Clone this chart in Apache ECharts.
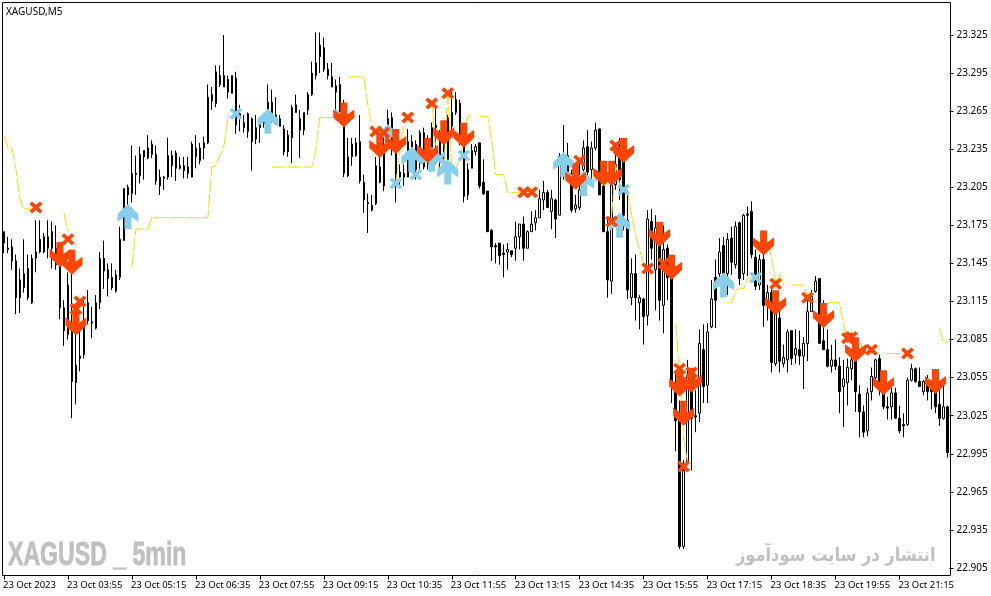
<!DOCTYPE html>
<html><head><meta charset="utf-8">
<style>html,body{margin:0;padding:0;background:#fff}#c{width:991px;height:596px}</style>
<script src="https://cdn.jsdelivr.net/npm/echarts@6/dist/echarts.min.js"></script>
</head><body><div id="c"></div>
<script>
const chartTitle = 'XAGUSD,M5';
const watermarkLeft = 'XAGUSD _ 5min';
const watermarkRight = 'انتشار در سایت سودآموز';
const tickEvery = 16;
const timeLabels = ['23 Oct 2023','23 Oct 03:55','23 Oct 05:15','23 Oct 06:35','23 Oct 07:55','23 Oct 09:15','23 Oct 10:35','23 Oct 11:55','23 Oct 13:15','23 Oct 14:35','23 Oct 15:55','23 Oct 17:15','23 Oct 18:35','23 Oct 19:55','23 Oct 21:15'];
const priceTicks = [22.905,22.935,22.965,22.995,23.025,23.055,23.085,23.115,23.145,23.175,23.205,23.235,23.265,23.295,23.325];

const opens = [23.170,23.157,23.158,23.147,23.118,23.126,23.141,23.114,23.149,23.154,
23.166,23.157,23.170,23.157,23.146,23.110,23.089,23.094,23.051,23.070,
23.073,23.114,23.099,23.094,23.114,23.149,23.140,23.134,23.123,23.134,
23.163,23.205,23.200,23.216,23.214,23.234,23.228,23.239,23.231,23.206,
23.212,23.213,23.222,23.232,23.222,23.222,23.221,23.213,23.236,23.226,
23.236,23.240,23.278,23.271,23.293,23.293,23.290,23.279,23.291,23.263,
23.256,23.249,23.259,23.243,23.252,23.255,23.266,23.272,23.258,23.259,
23.251,23.246,23.244,23.270,23.259,23.250,23.266,23.278,23.293,23.308,
23.315,23.298,23.292,23.280,23.286,23.266,23.214,23.229,23.240,23.241,
23.209,23.193,23.187,23.192,23.221,23.206,23.236,23.260,23.234,23.213,
23.216,23.213,23.230,23.239,23.224,23.248,23.242,23.233,23.252,23.248,
23.227,23.227,23.253,23.264,23.271,23.240,23.199,23.220,23.233,23.240,
23.209,23.202,23.171,23.159,23.161,23.153,23.154,23.155,23.157,23.166,
23.176,23.157,23.170,23.177,23.181,23.195,23.201,23.186,23.195,23.183,
23.215,23.230,23.216,23.188,23.189,23.219,23.237,23.219,23.236,23.251,
23.206,23.170,23.131,23.207,23.238,23.227,23.179,23.118,23.137,23.114,
23.117,23.104,23.178,23.140,23.164,23.112,23.157,23.134,23.051,23.022,
22.922,22.989,23.045,23.025,23.027,23.077,23.049,23.095,23.134,23.137,
23.159,23.137,23.165,23.144,23.177,23.137,23.184,23.186,23.150,23.128,
23.148,23.112,23.122,23.066,23.102,23.066,23.069,23.092,23.073,23.077,
23.072,23.082,23.107,23.123,23.133,23.084,23.077,23.064,23.069,23.064,
23.048,23.051,23.062,23.068,23.042,23.028,23.013,23.044,23.055,23.070,
23.043,23.032,23.032,23.043,23.023,23.018,23.018,23.053,23.062,23.052,
23.044,23.051,23.046,23.043,23.034,23.023,23.032];

const closes = [23.161,23.156,23.147,23.118,23.132,23.137,23.118,23.149,23.154,23.164,
23.154,23.166,23.157,23.144,23.110,23.092,23.128,23.052,23.065,23.072,
23.097,23.100,23.098,23.114,23.149,23.139,23.133,23.126,23.136,23.164,
23.204,23.199,23.216,23.215,23.231,23.229,23.236,23.231,23.210,23.213,
23.213,23.230,23.230,23.220,23.220,23.218,23.216,23.239,23.229,23.236,
23.240,23.276,23.273,23.296,23.286,23.284,23.280,23.293,23.254,23.259,
23.252,23.263,23.241,23.252,23.256,23.260,23.272,23.260,23.262,23.253,
23.233,23.233,23.268,23.264,23.250,23.264,23.278,23.295,23.303,23.317,
23.298,23.293,23.284,23.285,23.262,23.216,23.229,23.239,23.230,23.210,
23.195,23.192,23.191,23.222,23.209,23.236,23.259,23.236,23.213,23.217,
23.213,23.241,23.241,23.219,23.248,23.221,23.223,23.252,23.254,23.227,
23.242,23.260,23.264,23.274,23.245,23.198,23.219,23.234,23.237,23.206,
23.200,23.170,23.158,23.158,23.151,23.152,23.156,23.152,23.166,23.176,
23.157,23.170,23.176,23.181,23.196,23.201,23.189,23.196,23.180,23.229,
23.230,23.215,23.187,23.191,23.203,23.236,23.217,23.236,23.250,23.199,
23.170,23.132,23.207,23.223,23.211,23.183,23.124,23.137,23.118,23.118,
23.103,23.180,23.157,23.173,23.116,23.156,23.134,23.051,23.021,22.922,
22.982,23.057,23.023,23.024,23.082,23.048,23.091,23.117,23.116,23.154,
23.137,23.164,23.146,23.174,23.133,23.183,23.183,23.152,23.127,23.148,
23.112,23.122,23.067,23.106,23.068,23.071,23.091,23.070,23.078,23.072,
23.082,23.107,23.119,23.131,23.082,23.077,23.064,23.069,23.064,23.044,
23.054,23.063,23.069,23.044,23.028,23.012,23.043,23.056,23.069,23.048,
23.032,23.031,23.043,23.023,23.013,23.017,23.053,23.062,23.052,23.048,
23.052,23.044,23.044,23.032,23.023,23.032,22.996];

const highs = [23.170,23.166,23.164,23.152,23.141,23.164,23.152,23.152,23.179,23.179,
23.169,23.179,23.178,23.175,23.161,23.116,23.138,23.140,23.093,23.093,
23.116,23.124,23.111,23.120,23.154,23.163,23.145,23.145,23.140,23.174,
23.204,23.207,23.238,23.230,23.237,23.234,23.246,23.242,23.238,23.219,
23.214,23.244,23.234,23.234,23.229,23.229,23.229,23.241,23.246,23.240,
23.245,23.286,23.284,23.301,23.301,23.325,23.293,23.293,23.296,23.270,
23.262,23.264,23.260,23.262,23.260,23.262,23.286,23.282,23.276,23.262,
23.254,23.250,23.270,23.278,23.266,23.264,23.280,23.304,23.327,23.327,
23.323,23.303,23.303,23.290,23.292,23.274,23.244,23.244,23.244,23.262,
23.215,23.200,23.199,23.229,23.234,23.250,23.266,23.264,23.238,23.223,
23.223,23.251,23.246,23.242,23.250,23.252,23.246,23.256,23.267,23.250,
23.246,23.262,23.280,23.280,23.274,23.242,23.224,23.239,23.239,23.240,
23.227,23.202,23.172,23.161,23.161,23.160,23.161,23.155,23.178,23.176,
23.182,23.171,23.186,23.187,23.203,23.210,23.203,23.203,23.196,23.232,
23.254,23.240,23.219,23.199,23.227,23.242,23.250,23.241,23.256,23.251,
23.219,23.181,23.207,23.234,23.244,23.242,23.203,23.149,23.152,23.120,
23.118,23.187,23.188,23.183,23.175,23.175,23.160,23.140,23.061,23.037,
22.990,23.069,23.057,23.045,23.093,23.097,23.098,23.132,23.148,23.165,
23.166,23.169,23.174,23.178,23.178,23.184,23.190,23.194,23.156,23.152,
23.160,23.128,23.128,23.116,23.112,23.081,23.093,23.092,23.093,23.092,
23.087,23.120,23.124,23.135,23.133,23.116,23.093,23.081,23.085,23.071,
23.069,23.070,23.073,23.077,23.049,23.033,23.047,23.063,23.070,23.073,
23.057,23.040,23.047,23.047,23.033,23.027,23.055,23.066,23.063,23.063,
23.053,23.057,23.049,23.061,23.045,23.049,23.033];

const lows = [23.153,23.153,23.140,23.105,23.106,23.122,23.116,23.113,23.138,23.153,
23.153,23.149,23.141,23.140,23.101,23.080,23.085,23.023,23.034,23.060,
23.070,23.097,23.086,23.093,23.109,23.125,23.119,23.124,23.122,23.132,
23.163,23.183,23.193,23.199,23.208,23.211,23.227,23.228,23.207,23.199,
23.203,23.211,23.213,23.210,23.219,23.212,23.212,23.213,23.220,23.223,
23.227,23.239,23.266,23.268,23.284,23.284,23.275,23.279,23.247,23.249,
23.248,23.244,23.218,23.239,23.240,23.252,23.258,23.256,23.254,23.253,
23.230,23.229,23.224,23.264,23.228,23.246,23.262,23.277,23.290,23.295,
23.296,23.290,23.284,23.260,23.260,23.213,23.213,23.222,23.229,23.208,
23.185,23.169,23.186,23.191,23.208,23.202,23.234,23.230,23.193,23.205,
23.206,23.213,23.219,23.211,23.219,23.219,23.219,23.219,23.223,23.219,
23.223,23.223,23.250,23.262,23.238,23.193,23.195,23.220,23.230,23.204,
23.199,23.170,23.147,23.145,23.144,23.134,23.140,23.150,23.147,23.156,
23.147,23.157,23.170,23.171,23.181,23.187,23.189,23.172,23.165,23.183,
23.211,23.211,23.185,23.185,23.187,23.215,23.211,23.209,23.234,23.199,
23.170,23.118,23.121,23.203,23.195,23.171,23.117,23.112,23.100,23.093,
23.081,23.096,23.148,23.108,23.100,23.090,23.116,23.035,22.997,22.920,
22.920,22.986,22.982,23.012,23.020,23.035,23.035,23.094,23.094,23.132,
23.136,23.120,23.136,23.141,23.128,23.132,23.135,23.149,23.124,23.124,
23.095,23.100,23.059,23.064,23.059,23.063,23.059,23.065,23.066,23.065,
23.046,23.068,23.107,23.122,23.082,23.077,23.063,23.059,23.061,23.027,
23.016,23.033,23.053,23.028,23.008,23.008,23.009,23.037,23.052,23.041,
23.030,23.022,23.022,23.023,23.011,23.008,23.017,23.052,23.051,23.048,
23.041,23.037,23.030,23.027,23.017,23.022,22.992];

const n = null;
const stopLine = [23.246,23.236,23.236,23.219,23.195,23.188,23.188,23.188,n,n,
n,n,n,n,n,23.185,23.170,n,23.108,23.114,
n,n,n,n,n,n,n,n,n,n,
n,n,23.142,23.172,23.172,23.172,23.172,23.181,23.181,23.181,
23.181,23.181,23.181,23.181,23.181,23.181,23.181,23.181,23.181,23.181,
23.181,23.181,23.221,23.222,23.230,23.237,23.260,23.260,23.260,n,
n,n,n,n,n,n,n,23.221,23.221,23.221,
23.221,23.221,23.221,23.221,23.221,23.221,23.221,23.221,23.234,23.260,
23.260,23.260,23.260,23.261,23.261,n,23.292,23.292,23.292,23.292,
23.292,23.270,23.254,23.248,n,n,n,23.207,23.208,23.234,
23.254,n,n,n,n,n,n,23.274,23.234,23.217,
23.217,23.282,23.219,23.219,23.227,23.240,23.261,23.261,n,23.261,
23.261,23.261,23.242,23.215,23.215,23.215,23.201,23.201,23.201,23.201,
23.201,n,n,n,n,n,n,n,n,n,
n,n,n,n,n,n,n,23.213,23.213,23.213,
n,n,23.183,23.223,23.207,23.202,23.202,23.183,23.167,23.156,
23.144,n,n,n,n,n,n,n,23.098,23.057,
23.006,22.988,n,n,n,n,n,n,n,n,
n,23.114,23.114,23.124,23.125,23.125,23.133,23.134,23.134,n,
n,23.162,23.149,23.130,23.136,23.128,n,23.128,23.128,23.128,
23.128,23.120,n,n,n,n,23.114,23.114,23.114,23.114,
23.097,23.085,23.084,23.084,23.084,23.075,23.074,23.074,n,n,
n,23.074,23.074,23.074,23.074,23.074,23.074,n,n,n,
n,n,n,n,23.094,23.083,23.083];

const sellBars = [14,17,18,85,94,98,106,110,115,143,150,152,155,164,167,169,172,170,190,193,205,213,220,233];
const sellPrices = [23.152,23.146,23.098,23.262,23.238,23.241,23.234,23.248,23.246,23.213,23.216,23.216,23.234,23.168,23.142,23.050,23.053,23.027,23.161,23.114,23.104,23.077,23.051,23.052];
const buyBars = [31,66,102,96,107,111,140,145,154,180];
const buyPrices = [23.182,23.257,23.227,23.245,23.227,23.217,23.223,23.208,23.175,23.128];
const sellExitBars = [8,16,19,18,93,95,101,107,111,130,132,144,153,152,161,165,169,172,170,193,201,211,212,217,226];
const sellExitPrices = [23.189,23.164,23.115,23.109,23.249,23.248,23.260,23.271,23.279,23.201,23.201,23.226,23.238,23.178,23.141,23.145,23.062,23.059,22.985,23.129,23.118,23.086,23.087,23.077,23.074];
const buyExitBars = [58,84,98,103,109,115,142,149,155,188];
const buyExitPrices = [23.263,23.262,23.208,23.215,23.228,23.230,23.213,23.214,23.203,23.134];

const ORANGE = '#FF4500', SKY = '#87CEEB', GOLD = '#FFD700';
const downArrow = 'path://M7 0 L14 0 L14 12 L21 7 L21 15 L10.5 25 L0 15 L0 7 L7 12 Z';
const upArrow = 'path://M10.5 0 L21 10 L21 18 L14 13 L14 25 L7 25 L7 13 L0 18 L0 10 Z';
const cross = 'path://M2.5 0 L6 3.5 L9.5 0 L12 2.5 L8.5 6 L12 9.5 L9.5 12 L6 8.5 L2.5 12 L0 9.5 L3.5 6 L0 2.5 Z';
const pairs = (xs, ys) => xs.map((x, k) => [x, ys[k]]);
const labelFont = 'Noto Sans';
const marker = (xs, ys, symbol, size, color, z) => ({type:'scatter', data:pairs(xs,ys), symbol, symbolSize:size, z, itemStyle:{color, opacity:1}});

const chart = echarts.init(document.getElementById('c'), null, {renderer:'canvas'});
chart.setOption({
  animation:false,
  backgroundColor:'#fff',
  grid:{left:1.5, top:2.5, width:948, height:573, show:false},
  xAxis:{type:'category', data:opens.map((_,k)=>String(k)), boundaryGap:true, splitLine:{show:false},
    axisLine:{show:false},
    axisTick:{show:true, length:4, alignWithLabel:true, interval:k=>k%tickEvery===0, lineStyle:{color:'#000'}},
    axisLabel:{interval:k=>k%tickEvery===0, align:'left', margin:5, color:'#000', fontFamily:labelFont, fontSize:9.5, hideOverlap:false,
      padding:[0,0,0,-1], formatter:(v,k)=>timeLabels[k/tickEvery] || ''}},
  yAxis:{type:'value', position:'right', min:22.8991, max:23.3506, splitLine:{show:false},
    axisLine:{show:false},
    axisTick:{show:true, length:4, lineStyle:{color:'#000'}, customValues:priceTicks},
    axisLabel:{customValues:priceTicks, margin:7, color:'#000', fontFamily:labelFont, fontSize:10, padding:[6,0,0,0], formatter:v => v.toFixed(3)}},
  graphic:[
    {type:'rect', shape:{x:2.5, y:2.5, width:948, height:573}, style:{fill:'none', stroke:'#000', lineWidth:1}, silent:true, z:100},
    {type:'text', x:6, y:7, style:{text:chartTitle, fill:'#000', font:'10px "Noto Sans"'}, z:100},
    {type:'text', x:8, y:539, scaleX:0.70, style:{text:watermarkLeft, fill:'#c0c0c0', stroke:'#c0c0c0', lineWidth:0.8, font:'bold 33px "Liberation Sans"'}, z:100},
    {type:'text', x:736, y:547, scaleX:0.853, style:{text:watermarkRight, fill:'#c0c0c0', font:'bold 19px "DejaVu Sans"'}, z:100}
  ],
  series:[
    {type:'candlestick', barWidth:2,
     itemStyle:{color:'#fff', color0:'#000', borderColor:'#000', borderColor0:'#000', borderWidth:1},
     data:opens.map((o,k)=>[o,closes[k],lows[k],highs[k]])},
    {type:'line', data:stopLine, showSymbol:false, connectNulls:false, z:3,
     lineStyle:{color:GOLD, width:1, type:[14,2]}},
    marker(buyBars,buyPrices,upArrow,[21,25],SKY,4),
    marker(buyExitBars,buyExitPrices,cross,[13,12],SKY,4),
    marker(sellBars,sellPrices,downArrow,[21,25],ORANGE,5),
    marker(sellExitBars,sellExitPrices,cross,[13,12],ORANGE,5)
  ]
});
</script></body></html>
